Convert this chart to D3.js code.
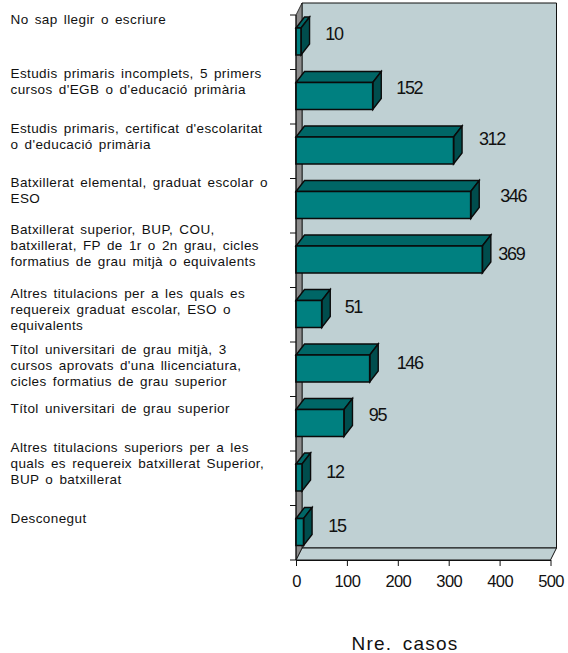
<!DOCTYPE html>
<html><head><meta charset="utf-8">
<script src="https://cdn.jsdelivr.net/npm/d3@7"></script>
<style>html,body{margin:0;padding:0;background:#fff}svg{display:block}text{font-family:"Liberation Sans",Arial,sans-serif}</style>
</head><body><svg id="c" width="568" height="653"></svg>
<script>
const categories = [
 ["No sap llegir o escriure"],
 ["Estudis primaris incomplets, 5 primers","cursos d'EGB o d'educació primària"],
 ["Estudis primaris, certificat d'escolaritat","o d'educació primària"],
 ["Batxillerat elemental, graduat escolar o","ESO"],
 ["Batxillerat superior, BUP, COU,","batxillerat, FP de 1r o 2n grau, cicles","formatius de grau mitjà o equivalents"],
 ["Altres titulacions per a les quals es","requereix graduat escolar, ESO o","equivalents"],
 ["Títol universitari de grau mitjà, 3","cursos aprovats d'una llicenciatura,","cicles formatius de grau superior"],
 ["Títol universitari de grau superior"],
 ["Altres titulacions superiors per a les","quals es requereix batxillerat Superior,","BUP o batxillerat"],
 ["Desconegut"]
];
const values = [10,152,312,346,369,51,146,95,12,15];
const xTicks = [0,100,200,300,400,500];
const axisTitle = "Nre. casos";
const labelBaselines = [24,78,133,187,234,298,354,413,452,523];
const valueNudge = [-3,0.5,2.4,6.5,-7,-4.4,4,-2.4,-3,-2.5];
const valueCenters = [34,88,139,196,254,307,363,415,472,526];

const svg = d3.select("#c");
const x = d3.scaleLinear().domain([0,500]).range([296,550.5]);
const y = d3.scaleBand().domain(d3.range(10)).range([15,560]);
const dx=6, dy=-12, bx=8.5, by=-11;
const poly=(pts,fill,stroke,sw)=>svg.append("polygon").attr("points",pts.map(p=>p.join(",")).join(" ")).attr("fill",fill).attr("stroke",stroke).attr("stroke-width",sw).attr("stroke-linejoin","miter");
const x0=x(0), x5=x(500), yT=y.range()[0], yB=y.range()[1];
poly([[x0+dx,yT+dy],[x5+dx,yT+dy],[x5+dx,yB+dy],[x0+dx,yB+dy]],"#bfd0d3","#111",1);
poly([[x0,yB],[x5,yB],[x5+dx,yB+dy],[x0+dx,yB+dy]],"#bfd0d3","#111",1);
poly([[x0,yT],[x0+dx,yT+dy],[x0+dx,yB+dy],[x0,yB]],"#8c8c8c","#111",0.8);
d3.range(11).forEach(i=>{const t=yT+i*y.bandwidth();
 svg.append("line").attr("x1",x0-6).attr("x2",x0).attr("y1",t).attr("y2",t).attr("stroke","#111");});
svg.append("line").attr("x1",x0).attr("x2",x0).attr("y1",yT).attr("y2",yB).attr("stroke","#111");
const gx=svg.append("g").attr("transform",`translate(0,${yB})`).call(d3.axisBottom(x).tickValues(xTicks).tickSize(6).tickPadding(9).tickSizeOuter(0));
gx.select(".domain").attr("stroke","#111");
gx.selectAll("line").attr("stroke","#111");
gx.selectAll("text").attr("font-size",16.5).attr("fill","#111").attr("letter-spacing",-0.6).style("font-family",'"Liberation Sans",Arial,sans-serif');
values.forEach((v,i)=>{
 const top=y(i)+13, bot=top+27, xv=x(v)-v*0.004;
 poly([[x0,top],[x0+bx,top+by],[xv+bx,top+by],[xv,top]],"#006666","#0a0a0a",1.4);
 poly([[xv,top],[xv+bx,top+by],[xv+bx,bot+by],[xv,bot]],"#004d4d","#0a0a0a",1.4);
 poly([[x0,top],[xv,top],[xv,bot],[x0,bot]],"#008080","#0a0a0a",1.7);
 svg.append("text").attr("x",xv+36+valueNudge[i]).attr("y",valueCenters[i]).attr("dy","0.35em")
  .attr("text-anchor","middle").attr("font-size",18).attr("letter-spacing",-1.3).attr("fill","#111").text(v);
});
categories.forEach((ls,i)=>{
 ls.forEach((l,j)=>svg.append("text").attr("x",10.5).attr("y",labelBaselines[i]+j*16)
  .attr("font-size",13.5).attr("letter-spacing",0.4).attr("word-spacing",2).attr("fill","#111").text(l));
});
svg.append("text").attr("x",405).attr("y",650).attr("text-anchor","middle").attr("font-size",19).attr("letter-spacing",1.2).attr("word-spacing",4).attr("fill","#111").text(axisTitle);
</script></body></html>
